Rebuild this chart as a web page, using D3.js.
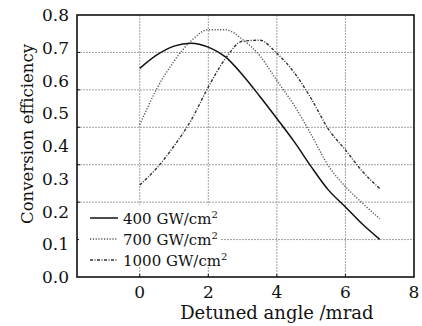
<!DOCTYPE html>
<html><head><meta charset="utf-8">
<script src="https://cdn.jsdelivr.net/npm/d3@7/dist/d3.min.js"></script>
<style>body{margin:0;background:#fff}svg{display:block}text{font-family:"DejaVu Serif",serif;fill:#111}</style>
</head><body><svg id="c" width="422" height="326"></svg>
<script>
const angles = [0,0.5,1,1.5,2,2.5,3,3.5,4,4.5,5,5.5,6,6.5,7];
const eff400 = [0.637,0.678,0.705,0.714,0.702,0.672,0.617,0.552,0.484,0.414,0.337,0.266,0.214,0.161,0.115];
const eff700 = [0.465,0.575,0.659,0.721,0.755,0.755,0.725,0.676,0.600,0.525,0.435,0.340,0.276,0.225,0.178];
const eff1000 = [0.281,0.333,0.400,0.479,0.580,0.667,0.720,0.723,0.683,0.625,0.545,0.452,0.388,0.322,0.270];
const seriesNames = ["400 GW/cm","700 GW/cm","1000 GW/cm"];
const xTicks = [0,2,4,6,8];
const yTicks = [0,0.1,0.2,0.3,0.4,0.5,0.6,0.7,0.8];
const xGrid = [0,2,4,6];
const yGridDivisions = 7;

const svg = d3.select("#c");
const L=77,R=414,T=15,B=277;
const x = d3.scaleLinear().domain([-1.83,8]).range([L,R]);
const y = d3.scaleLinear().domain([0,0.8]).range([B,T]);

const g = svg.append("g");
// grid
const yGrid = d3.range(1,yGridDivisions).map(k=>0.8*k/yGridDivisions);
g.selectAll(".gy").data(yGrid).join("line")
 .attr("x1",L).attr("x2",R).attr("y1",d=>y(d)).attr("y2",d=>y(d))
 .attr("stroke","#a0a0a0").attr("stroke-width",1).attr("stroke-dasharray","2,1");
g.selectAll(".gx").data(xGrid).join("line")
 .attr("y1",T).attr("y2",B).attr("x1",d=>x(d)).attr("x2",d=>x(d))
 .attr("stroke","#a0a0a0").attr("stroke-width",1).attr("stroke-dasharray","2,1");
// small ticks
g.selectAll(".ty").data(yGrid).join("line")
 .attr("x1",L).attr("x2",L+3).attr("y1",d=>y(d)).attr("y2",d=>y(d)).attr("stroke","#111");
g.selectAll(".tx").data(xGrid).join("line")
 .attr("y1",B).attr("y2",B-3).attr("x1",d=>x(d)).attr("x2",d=>x(d)).attr("stroke","#111");

// lines
const line = d3.line().x((d,i)=>x(angles[i])).y(d=>y(d)).curve(d3.curveMonotoneX);
const styles = [
 {stroke:"#111",w:1.5,dash:null},
 {stroke:"#555",w:1.4,dash:"1.2,1.6"},
 {stroke:"#333",w:1.4,dash:"3,1.5,1,1.5"}
];
[eff400,eff700,eff1000].forEach((s,i)=>{
 g.append("path").attr("d",line(s)).attr("fill","none")
  .attr("stroke",styles[i].stroke).attr("stroke-width",styles[i].w)
  .attr("stroke-dasharray",styles[i].dash);
});

// legend
const lg = g.append("g");
lg.append("rect").attr("x",79).attr("y",205).attr("width",142).attr("height",62).attr("fill","#fff");
const rowsY=[218,239,260];
seriesNames.forEach((n,i)=>{
 lg.append("line").attr("x1",90).attr("x2",118).attr("y1",rowsY[i]).attr("y2",rowsY[i])
  .attr("stroke",styles[i].stroke).attr("stroke-width",styles[i].w).attr("stroke-dasharray",styles[i].dash);
 const t=lg.append("text").attr("x",123).attr("y",rowsY[i]+5.5).attr("font-size",15);
 t.append("tspan").text(n);
 t.append("tspan").attr("dy",-6).attr("font-size",10).text("2");
});

// frame
g.append("rect").attr("x",L).attr("y",T).attr("width",R-L).attr("height",B-T)
 .attr("fill","none").attr("stroke","#111").attr("stroke-width",1.6);

// tick labels
g.selectAll(".xl").data(xTicks).join("text").attr("x",d=>x(d)).attr("y",298)
 .attr("text-anchor","middle").attr("font-size",17).text(d=>d);
g.selectAll(".yl").data(yTicks).join("text").attr("x",69).attr("y",d=>y(d)+6)
 .attr("text-anchor","end").attr("font-size",17).text(d=>d.toFixed(1));

// titles
g.append("text").attr("x",x(4)).attr("y",319).attr("text-anchor","middle").attr("font-size",18).text("Detuned angle /mrad");
g.append("text").attr("transform","translate(33,134) rotate(-90)").attr("text-anchor","middle").attr("font-size",16.5).text("Conversion efficiency");
</script></body></html>
